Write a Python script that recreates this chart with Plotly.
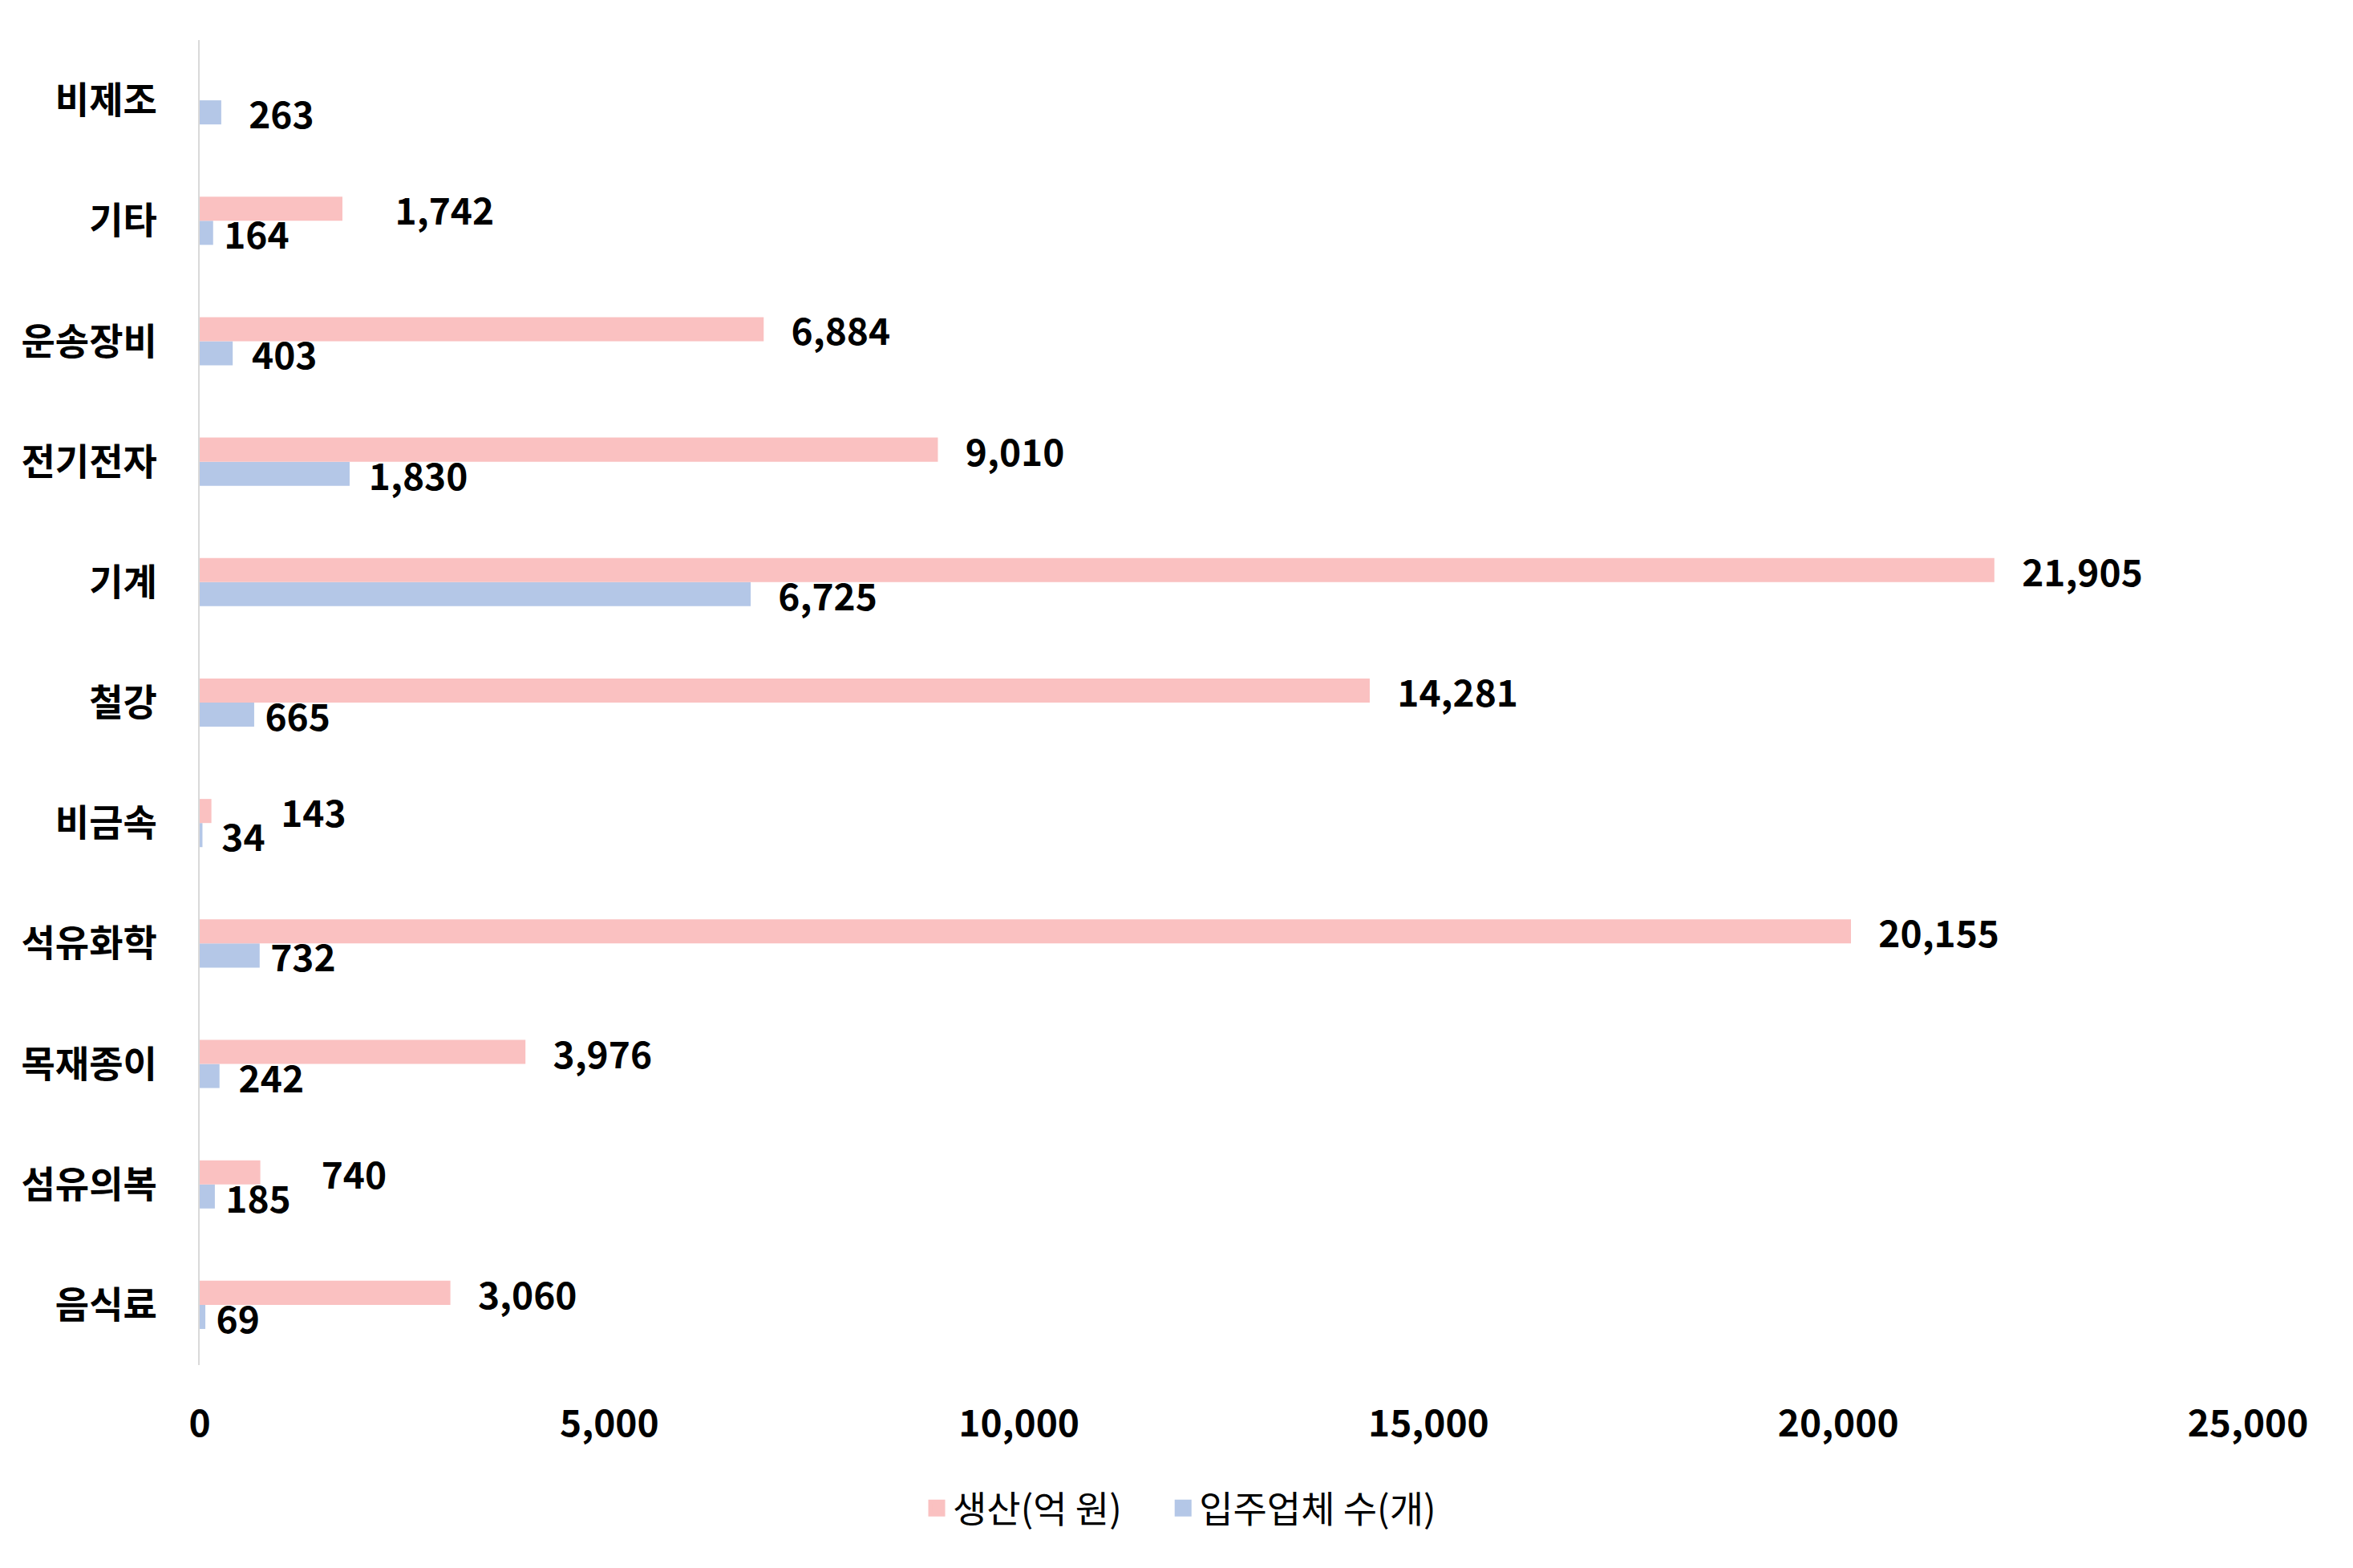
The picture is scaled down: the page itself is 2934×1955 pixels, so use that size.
import plotly.graph_objects as go

categories = ["음식료", "섬유의복", "목재종이", "석유화학", "비금속", "철강",
              "기계", "전기전자", "운송장비", "기타", "비제조"]
production = [3060, 740, 3976, 20155, 143, 14281, 21905, 9010, 6884, 1742, None]
companies = [69, 185, 242, 732, 34, 665, 6725, 1830, 403, 164, 263]
x_ticks = [0, 5000, 10000, 15000, 20000, 25000]
series_names = ["생산(억 원)", "입주업체 수(개)"]

# label offsets (number of non-breaking spaces before each data label)
prod_label_pad = [3, 7, 3, 3, 8, 3, 3, 3, 3, 6, 3]
comp_label_pad = [1, 1, 2, 1, 2, 1, 3, 2, 2, 1, 3]

FONT = "Noto Sans CJK KR"
NB = "\u00a0"
PINK = "#FAC1C1"
BLUE = "#B4C7E7"


def labels(values, pads):
    return ["" if v is None else NB * p + f"{v:,}" for v, p in zip(values, pads)]


label_font = dict(family=FONT, size=46, color="black", weight="bold")

fig = go.Figure()
fig.add_trace(go.Bar(
    y=categories, x=companies, orientation="h", name=series_names[1],
    marker=dict(color=BLUE, line=dict(width=0)),
    text=labels(companies, comp_label_pad), textposition="outside",
    constraintext="none", cliponaxis=False, textfont=label_font,
    showlegend=False,
))
fig.add_trace(go.Bar(
    y=categories, x=production, orientation="h", name=series_names[0],
    marker=dict(color=PINK, line=dict(width=0)),
    text=labels(production, prod_label_pad), textposition="outside",
    constraintext="none", cliponaxis=False, textfont=label_font,
    showlegend=False,
))
# legend entries (larger square swatches); trailing spaces widen the gap between items
for name, color, rank in [(series_names[0] + NB * 5, PINK, 1), (series_names[1], BLUE, 2)]:
    fig.add_trace(go.Scatter(
        x=[None], y=[None], mode="markers", name=name, legendrank=rank,
        marker=dict(symbol="square", size=16, color=color,
                    line=dict(width=5, color=color)),
        showlegend=True, hoverinfo="skip",
    ))

fig.update_layout(
    width=2934, height=1955,
    barmode="group", bargap=0.6, bargroupgap=0,
    plot_bgcolor="white", paper_bgcolor="white",
    margin=dict(l=241, r=139, t=42, b=261),
    font=dict(family=FONT, color="black"),
    showlegend=True,
    legend=dict(orientation="h", x=0.352, xanchor="left", y=-0.108, yanchor="middle",
                font=dict(family=FONT, size=46, color="black"), traceorder="normal"),
    xaxis=dict(range=[0, 25000], tickvals=x_ticks, tickformat=",", showgrid=False,
               zeroline=False, showline=False, ticks="",
               tickfont=dict(family=FONT, size=46, color="black", weight="bold"),
               ticklabelstandoff=42),
    yaxis=dict(type="category", categoryorder="array", categoryarray=categories,
               showgrid=False, zeroline=False, showline=True, linecolor="#D9D9D9",
               linewidth=2, ticks="",
               tickfont=dict(family=FONT, size=46, color="black", weight="bold"),
               ticklabelstandoff=42),
)

fig.write_html("out.html")
